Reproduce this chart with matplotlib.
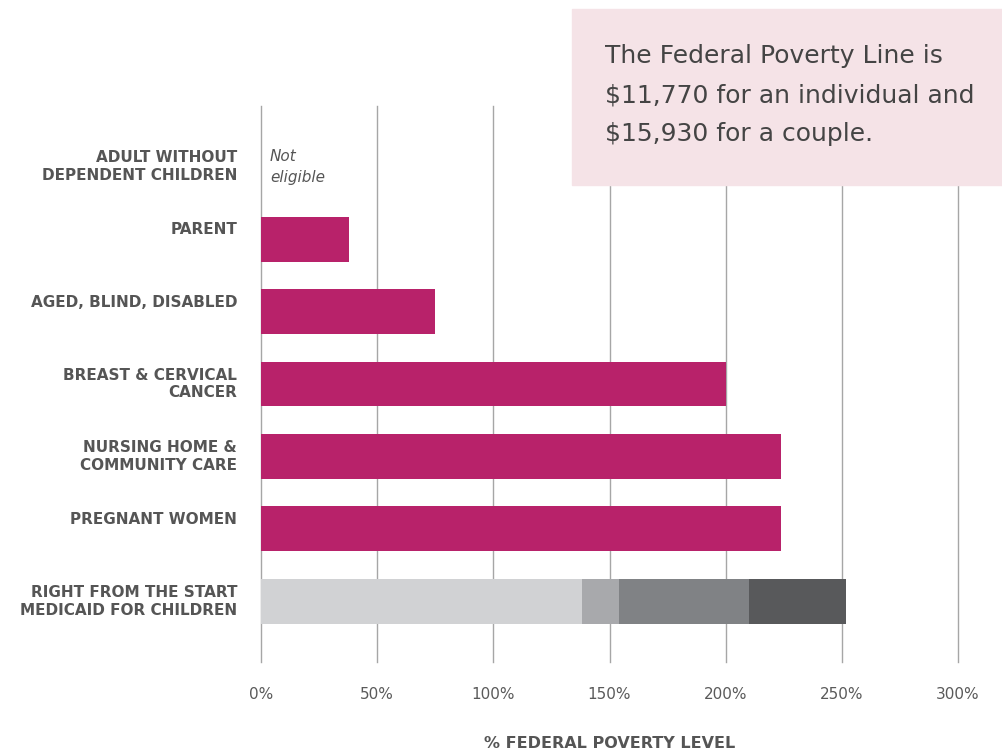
import matplotlib.pyplot as plt
from matplotlib.patches import Rectangle
from matplotlib.transforms import ScaledTranslation

# Datos
categories = ['ADULT WITHOUT\nDEPENDENT CHILDREN', 'PARENT', 'AGED, BLIND, DISABLED',
              'BREAST & CERVICAL\nCANCER', 'NURSING HOME &\nCOMMUNITY CARE',
              'PREGNANT WOMEN', 'RIGHT FROM THE START\nMEDICAID FOR CHILDREN']
limits = [0, 38, 75, 200, 224, 224]
children_steps = [138, 154, 210, 252]
children_colors = ['#d1d2d4', '#a8a9ac', '#808285', '#58595b']
xticks = [0, 50, 100, 150, 200, 250, 300]

plt.rcParams['font.family'] = ['DejaVu Sans']

fig = plt.figure(figsize=(10.02, 7.52), dpi=100)
ax = fig.add_axes([0.2605, 0.1197, 0.6956, 0.7394])

# Barras simples
for i, v in enumerate(limits):
    if v > 0:
        ax.barh(i, v, height=0.62, color='#b8226a', zorder=3)

# Barra apilada para niños
y_last = len(categories) - 1
left = 0
for step, c in zip(children_steps, children_colors):
    ax.barh(y_last, step - left, left=left, height=0.62, color=c, zorder=3)
    left = step

ax.text(3.8, 0, 'Not\neligible', style='italic', fontsize=11, color='#555555',
        va='center', ha='left', linespacing=1.5)

ax.set_xlim(0, 300)
ax.set_ylim(6.84, -0.84)
ax.set_xticks(xticks)
ax.set_xticklabels([f'{t}%' for t in xticks], fontsize=11, color='#5a5a5a')
ax.set_yticks([])
ax.tick_params(axis='x', length=0, pad=18)
ax.grid(axis='x', color='#a6a6a6', linewidth=1.0, zorder=0)
for gl in ax.get_xgridlines():
    gl.set_clip_on(False)
for s in ax.spines.values():
    s.set_visible(False)

# Etiquetas de categorías (las de una línea van un poco más arriba)
for i, lab in enumerate(categories):
    dy = 0 if '\n' in lab else 0.095
    tr = ax.get_yaxis_transform() + ScaledTranslation(-0.24, dy, fig.dpi_scale_trans)
    ax.text(0, i, lab, transform=tr, ha='right', va='center', fontsize=11,
            fontweight='bold', color='#555555', linespacing=1.23)

fig.text(0.6085, 1 - 744 / 752, '% FEDERAL POVERTY LEVEL', ha='center', va='center',
         fontsize=11.5, color='#555555', fontweight='bold')

# Cuadro de texto
fig.patches.append(Rectangle((572 / 1002, 1 - 185 / 752), 430 / 1002, 176 / 752,
                             transform=fig.transFigure, color='#f5e3e7', zorder=5))
fig.text(605 / 1002, 1 - 95 / 752,
         'The Federal Poverty Line is\n$11,770 for an individual and\n$15,930 for a couple.',
         fontsize=18, color='#444444', va='center', ha='left', linespacing=1.8, zorder=6)

plt.savefig('out.png', dpi=100)
